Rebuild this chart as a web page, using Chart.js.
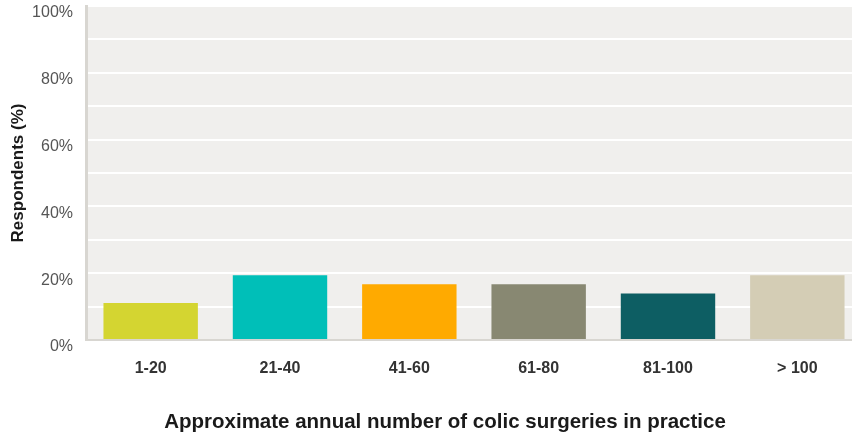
<!DOCTYPE html>
<html>
<head>
<meta charset="utf-8">
<script src="https://cdn.jsdelivr.net/npm/chart.js@4/dist/chart.umd.min.js"></script>
<style>
    html, body { margin: 0; padding: 0; background: #fff; overflow: hidden; }
    #wrap { width: 862px; height: 438px; position: relative; }
</style>
</head>
<body>
<div id="wrap"><canvas id="surgery-chart"></canvas></div>
<script>
const categories = ['1-20', '21-40', '41-60', '61-80', '81-100', '> 100'];
const respondents = [11.1, 19.4, 16.7, 16.7, 13.9, 19.4];
const barColors = ['#d4d531', '#00bfb8', '#ffaa00', '#888872', '#0d5e63', '#d4cdb5'];
const yTicks = [0, 20, 40, 60, 80, 100];

const FONT = '"Liberation Sans", Arial, sans-serif';

const plotBg = {
    id: 'plotBg',
    beforeDraw(chart) {
        const { ctx, chartArea: a } = chart;
        ctx.save();
        ctx.fillStyle = '#f0efed';
        ctx.fillRect(a.left, a.top, a.right - a.left, a.bottom - a.top);
        ctx.restore();
    },
    afterDraw(chart) {
        // x title centred where the original puts it, not on the (cut off) plot
        const { ctx } = chart;
        ctx.save();
        ctx.font = 'bold 20.5px ' + FONT;
        ctx.fillStyle = '#1a1a1a';
        ctx.textAlign = 'center';
        ctx.textBaseline = 'middle';
        ctx.fillText('Approximate annual number of colic surgeries in practice', 445, 422);
        ctx.restore();
    }
};

new Chart(document.getElementById('surgery-chart').getContext('2d'), {
    type: 'bar',
    data: {
        labels: categories,
        datasets: [{
            data: respondents,
            backgroundColor: barColors,
            borderWidth: 0,
            categoryPercentage: 1,
            barPercentage: 0.73
        }]
    },
    options: {
        responsive: true,
        maintainAspectRatio: false,
        animation: false,
        layout: { padding: { top: 6, right: 0, left: 0, bottom: 0 } },
        plugins: { legend: { display: false }, tooltip: { enabled: false } },
        scales: {
            x: {
                grid: { display: false },
                border: { display: true, color: '#d8d6d1', width: 2 },
                ticks: { color: '#333', padding: 11, font: { family: FONT, size: 16, weight: 'bold' } },
                afterFit: s => { s.height = 98; s.paddingLeft = 0; s.paddingRight = 0; }
            },
            y: {
                min: 0, max: 100,
                grid: { color: '#ffffff', lineWidth: 2, drawTicks: false },
                border: { display: true, color: '#d8d6d1', width: 3 },
                ticks: {
                    stepSize: 10,
                    padding: 13,
                    labelOffset: 7,
                    color: '#555',
                    font: { family: FONT, size: 16 },
                    callback: v => yTicks.includes(v) ? v + '%' : ''
                },
                title: {
                    display: true,
                    text: 'Respondents (%)',
                    color: '#1a1a1a',
                    padding: { top: 8, bottom: 0 },
                    font: { family: FONT, size: 17, weight: 'bold' }
                },
                afterFit: s => { s.width = 86; s.paddingTop = 0; s.paddingBottom = 0; }
            }
        }
    },
    plugins: [plotBg]
});
</script>
</body>
</html>
